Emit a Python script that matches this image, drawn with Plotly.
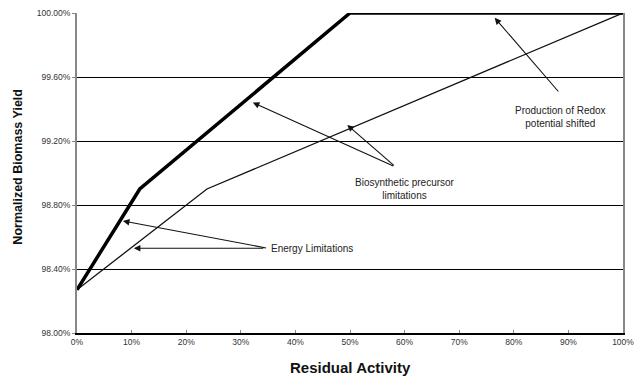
import plotly.graph_objects as go

# Data (residual activity in %, normalized biomass yield in %)
thick_x = [0, 11.5, 50, 100]
thick_y = [98.27, 98.90, 100.0, 100.0]
thin_x = [0, 23.8, 100]
thin_y = [98.27, 98.90, 100.0]

x_ticks = [0, 10, 20, 30, 40, 50, 60, 70, 80, 90, 100]
x_tick_labels = [f"{v}%" for v in x_ticks]
y_ticks = [98.0, 98.4, 98.8, 99.2, 99.6, 100.0]
y_tick_labels = [f"{v:.2f}%" for v in y_ticks]

FONT = "Liberation Sans, Arial, sans-serif"

fig = go.Figure()
fig.add_trace(go.Scatter(x=thin_x, y=thin_y, mode="lines",
                         line=dict(color="#111111", width=1.3), showlegend=False))
fig.add_trace(go.Scatter(x=thick_x, y=thick_y, mode="lines",
                         line=dict(color="#000000", width=3.5), showlegend=False))

arrow_style = dict(showarrow=True, arrowhead=2, arrowsize=1.2, arrowwidth=1.1,
                   arrowcolor="#111111", axref="x", ayref="y", text="")
arrows = [
    # (head x, head y, tail x, tail y)
    (8.4, 98.70, 34.9, 98.53),
    (10.4, 98.53, 34.4, 98.53),
    (32.2, 99.44, 58.2, 99.04),
    (49.5, 99.30, 58.3, 99.04),
    (76.5, 99.97, 88.4, 99.50),
]
for hx, hy, tx, ty in arrows:
    fig.add_annotation(x=hx, y=hy, ax=tx, ay=ty, **arrow_style)

text_font = dict(family=FONT, size=10, color="#222222")
fig.add_annotation(x=35.2, y=98.53, text="Energy Limitations", showarrow=False,
                   xanchor="left", font=text_font)
fig.add_annotation(x=60.0, y=98.90, text="Biosynthetic precursor<br>limitations",
                   showarrow=False, font=text_font)
fig.add_annotation(x=88.6, y=99.35, text="Production of Redox<br>potential shifted",
                   showarrow=False, font=text_font)

# Axis titles
fig.add_annotation(xref="paper", yref="paper", x=0.5, y=-0.108, yanchor="middle",
                   text="<b>Residual Activity</b>", showarrow=False,
                   font=dict(family=FONT, size=15, color="#111111"))
fig.add_annotation(xref="paper", yref="paper", x=-0.108, y=0.52, xanchor="center",
                   yanchor="middle",
                   text="<b>Normalized Biomass Yield</b>", textangle=-90, showarrow=False,
                   font=dict(family=FONT, size=12.5, color="#111111"))

tick_font = dict(family=FONT, size=8.5, color="#333333")
fig.update_layout(
    width=635, height=376,
    margin=dict(l=77, r=12, t=13, b=43, autoexpand=False),
    paper_bgcolor="white", plot_bgcolor="white",
    font=dict(family=FONT, size=8.5, color="#333333"),
    xaxis=dict(range=[0, 100], tickvals=x_ticks, ticktext=x_tick_labels,
               showgrid=False, zeroline=False, showline=True, linecolor="#000000",
               linewidth=1.5, ticks="inside", ticklen=3, tickcolor="#888888",
               automargin=False, tickfont=tick_font),
    yaxis=dict(range=[98.0, 100.0], tickvals=y_ticks, ticktext=y_tick_labels,
               showgrid=True, gridcolor="#000000", gridwidth=1.3, zeroline=False,
               showline=True, mirror=True, linecolor="#888888", linewidth=2,
               ticks="outside", ticklen=3, tickcolor="#888888", automargin=False,
               tickfont=tick_font),
)

fig.write_html("out.html", config={"displayModeBar": False},
               post_script="document.body.style.margin='0';document.body.style.overflow='hidden';")
